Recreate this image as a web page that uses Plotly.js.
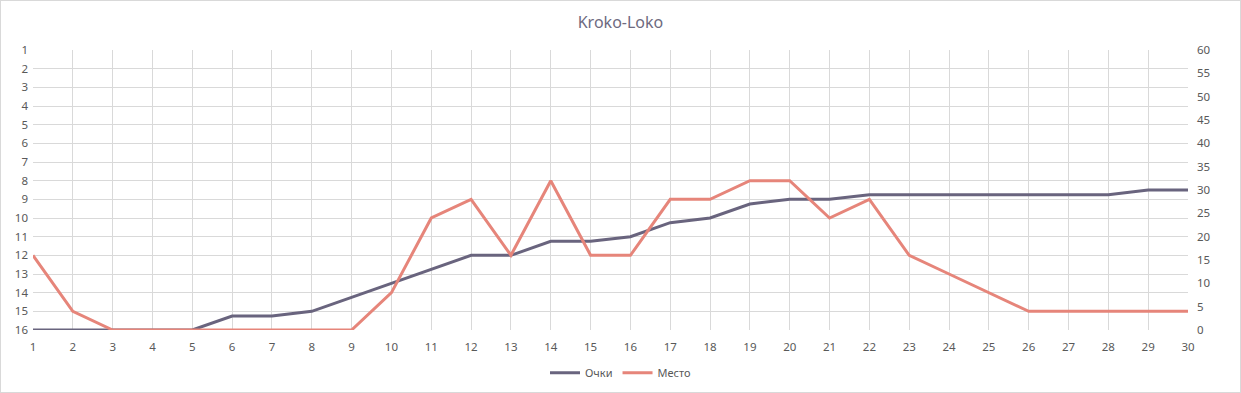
<!DOCTYPE html>
<html>
<head>
<meta charset="utf-8">
<script src="https://cdn.plot.ly/plotly-3.0.1.min.js"></script>
<style>
html,body{margin:0;padding:0;background:#fff;}
#wrap{width:1241px;height:393px;box-sizing:border-box;border:1px solid #d9d9d9;}
#chart{width:1239px;height:391px;}
</style>
</head>
<body>
<div id="wrap"><div id="chart"></div></div>
<script>
const rounds = [1,2,3,4,5,6,7,8,9,10,11,12,13,14,15,16,17,18,19,20,21,22,23,24,25,26,27,28,29,30];
const points = [0,0,0,0,0,3,3,4,7,10,13,16,16,19,19,20,23,24,27,28,28,29,29,29,29,29,29,29,30,30];
const place  = [12,15,16,16,16,16,16,16,16,14,10,9,12,8,12,12,9,9,8,8,10,9,12,13,14,15,15,15,15,15];
const placeTicks = [1,2,3,4,5,6,7,8,9,10,11,12,13,14,15,16];
const pointTicks = [0,5,10,15,20,25,30,35,40,45,50,55,60];

const fontFam = "'Noto Sans', 'Open Sans', sans-serif";
const tickFont = {family: fontFam, size: 11.5, color: '#595959'};

const traces = [
  {x: rounds, y: points, name: 'Очки', type: 'scatter', mode: 'lines', yaxis: 'y',
   line: {color: '#69647e', width: 3}},
  {x: rounds, y: place, name: 'Место', type: 'scatter', mode: 'lines', yaxis: 'y2',
   line: {color: '#e6857a', width: 3}}
];

const layout = {
  width: 1239, height: 391,
  margin: {l: 32, r: 52, t: 49, b: 62, autoexpand: false},
  paper_bgcolor: '#fff', plot_bgcolor: '#fff',
  title: {text: 'Kroko-Loko', x: 0.5, xanchor: 'center', y: 0.945, yanchor: 'middle',
          font: {family: fontFam, size: 16, color: '#6e6a80'}},
  showlegend: true,
  legend: {orientation: 'h', x: 0.5, xanchor: 'center', xref: 'container', yref: 'container',
           y: 0.049, yanchor: 'middle',
           font: {family: fontFam, size: 11, color: '#595959'}, itemwidth: 30, tracegroupgap: 0},
  xaxis: {type: 'linear', range: [1, 30], tickvals: rounds, ticktext: rounds.map(String),
          showgrid: true, gridcolor: '#d9d9d9', gridwidth: 1, zeroline: false, showline: false,
          ticks: '', ticklabelstandoff: 8, tickfont: tickFont, automargin: false},
  yaxis: {side: 'right', range: [0, 60], tickvals: pointTicks, ticktext: pointTicks.map(String),
          showgrid: false, zeroline: false, showline: false, ticks: '', ticklabelstandoff: 8,
          tickfont: tickFont, automargin: false},
  yaxis2: {overlaying: 'y', side: 'left', range: [16, 1], tickvals: placeTicks,
           ticktext: placeTicks.map(String), showgrid: true, gridcolor: '#d9d9d9', gridwidth: 1,
           zeroline: false, showline: false, ticks: '', ticklabelstandoff: 4, tickfont: tickFont,
           automargin: false}
};

Plotly.newPlot('chart', traces, layout, {displayModeBar: false, staticPlot: true});
</script>
</body>
</html>
